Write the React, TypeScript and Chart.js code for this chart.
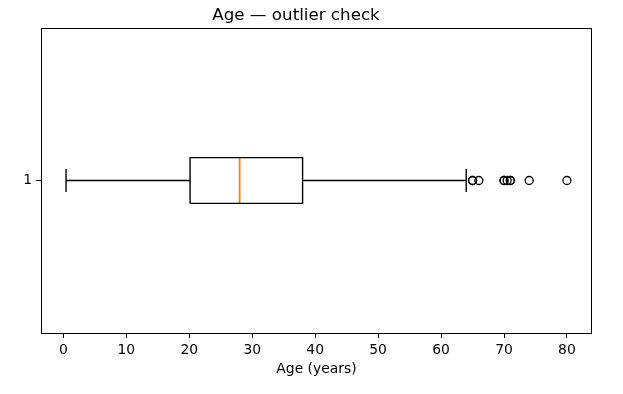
import { useEffect, useRef } from "react";
import { Chart, registerables } from "chart.js";
Chart.register(...registerables);

const categories = ["1"];
const whiskerLow = [0.42];
const q1 = [20.125];
const median = [28];
const q3 = [38];
const whiskerHigh = [64];
const outliers = [65, 65, 66, 70, 70, 70.5, 71, 71, 74, 80];
const xTicks = [0, 10, 20, 30, 40, 50, 60, 70, 80];

const FONT = "'DejaVu Sans', sans-serif";

export default function App() {
  const ref = useRef<HTMLCanvasElement | null>(null);
  useEffect(() => {
    if (!ref.current) return;
    const pos = 1;
    const bw = 0.075;
    const cw = 0.0375;
    const i = 0;
    const lineDs = (pts: { x: number; y: number }[], color = "#000", w = 1.4) => ({
      type: "scatter" as const,
      data: pts,
      showLine: true,
      borderColor: color,
      backgroundColor: color,
      borderWidth: w,
      pointRadius: 0,
      pointHoverRadius: 0,
      fill: false,
    });
    const datasets: any[] = [
      lineDs([
        { x: q1[i], y: pos - bw },
        { x: q3[i], y: pos - bw },
        { x: q3[i], y: pos + bw },
        { x: q1[i], y: pos + bw },
        { x: q1[i], y: pos - bw },
      ]),
      lineDs([
        { x: whiskerLow[i], y: pos },
        { x: q1[i], y: pos },
      ]),
      lineDs([
        { x: q3[i], y: pos },
        { x: whiskerHigh[i], y: pos },
      ]),
      lineDs([
        { x: whiskerLow[i], y: pos - cw },
        { x: whiskerLow[i], y: pos + cw },
      ]),
      lineDs([
        { x: whiskerHigh[i], y: pos - cw },
        { x: whiskerHigh[i], y: pos + cw },
      ]),
      lineDs(
        [
          { x: median[i], y: pos - bw },
          { x: median[i], y: pos + bw },
        ],
        "#ff7f0e",
        1.8
      ),
      {
        type: "scatter",
        data: outliers.map((v) => ({ x: v, y: pos })),
        showLine: false,
        pointStyle: "circle",
        pointRadius: 4,
        pointBorderWidth: 1.3,
        borderColor: "#000",
        pointBorderColor: "#000",
        backgroundColor: "rgba(0,0,0,0)",
        pointBackgroundColor: "rgba(0,0,0,0)",
      },
    ];
    const frame = {
      id: "frame",
      afterDraw(chart: any) {
        const { ctx, chartArea } = chart;
        ctx.save();
        ctx.strokeStyle = "#000";
        ctx.lineWidth = 1;
        ctx.strokeRect(
          Math.round(chartArea.left) + 0.5,
          Math.round(chartArea.top) + 0.5,
          Math.round(chartArea.right - chartArea.left) - 1,
          Math.round(chartArea.bottom - chartArea.top)
        );
        ctx.restore();
      },
    };
    const chart = new Chart(ref.current, {
      type: "scatter",
      data: { datasets },
      plugins: [frame],
      options: {
        animation: false,
        responsive: false,
        layout: { padding: { left: 0, right: 31, top: 0, bottom: 16 } },
        plugins: {
          legend: { display: false },
          tooltip: { enabled: false },
          title: {
            display: true,
            text: "Age — outlier check",
            color: "#000",
            font: { family: FONT, size: 16.7, weight: "normal" },
            padding: { top: 6, bottom: 2 },
          },
        },
        scales: {
          x: {
            type: "linear",
            min: -3.56,
            max: 83.98,
            afterBuildTicks: (s: any) => {
              s.ticks = xTicks.map((v) => ({ value: v }));
            },
            afterFit: (s: any) => {
              s.height = 45;
            },
            grid: {
              display: true,
              drawOnChartArea: false,
              drawTicks: true,
              tickLength: 5,
              color: "#000",
            },
            border: { display: false },
            ticks: {
              color: "#000",
              padding: 4,
              font: { family: FONT, size: 13.9 },
            },
            title: {
              display: true,
              text: "Age (years)",
              color: "#000",
              font: { family: FONT, size: 13.9 },
              padding: { top: 2, bottom: 0 },
            },
          },
          y: {
            type: "linear",
            min: 0.5,
            max: 1.5,
            afterBuildTicks: (s: any) => {
              s.ticks = categories.map((_, k) => ({ value: k + 1 }));
            },
            afterFit: (s: any) => {
              s.width = 41;
            },
            grid: {
              display: true,
              drawOnChartArea: false,
              drawTicks: true,
              tickLength: 5,
              color: "#000",
            },
            border: { display: false },
            ticks: {
              color: "#000",
              padding: 4,
              font: { family: FONT, size: 13.9 },
              callback: (v: any) => categories[Number(v) - 1] ?? "",
            },
          },
        },
      },
    });
    return () => chart.destroy();
  }, []);
  return (
    <div style={{ position: "absolute", left: 0, top: 0, width: 623, height: 394, background: "#fff" }}>
      <canvas ref={ref} width={623} height={394} />
    </div>
  );
}
